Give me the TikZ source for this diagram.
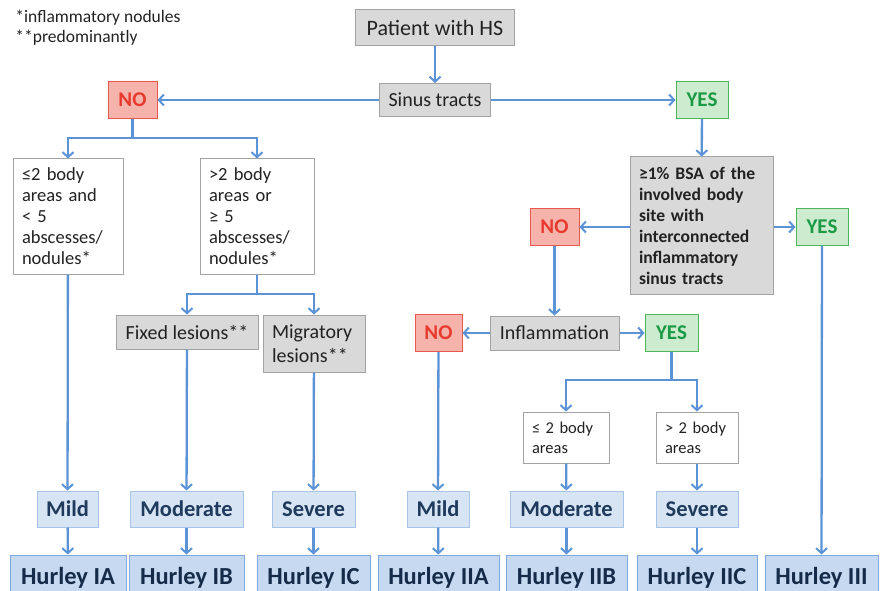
\documentclass[tikz,border=0pt]{standalone}
\usepackage{fontspec}
\setmainfont{Carlito}
\usetikzlibrary{arrows.meta}
\definecolor{greyfill}{HTML}{D9D9D9}
\definecolor{greydraw}{HTML}{A3A3A3}
\definecolor{nofill}{HTML}{F5B3AB}
\definecolor{nodraw}{HTML}{E8584E}
\definecolor{notext}{HTML}{E8392E}
\definecolor{yesfill}{HTML}{CDEBCF}
\definecolor{yesdraw}{HTML}{4DB560}
\definecolor{yestext}{HTML}{1B9A45}
\definecolor{sevfill}{HTML}{D6E4F3}
\definecolor{sevdraw}{HTML}{A8C5E6}
\definecolor{sevtext}{HTML}{1F3A5C}
\definecolor{hurfill}{HTML}{C6D9F0}
\definecolor{hurdraw}{HTML}{7EA9DC}
\definecolor{hurtext}{HTML}{152B48}
\definecolor{arrowc}{HTML}{5B93D6}
\definecolor{txt}{HTML}{222222}
\tikzset{
  base/.style={inner sep=0pt, line width=1pt, text=txt},
  greybox/.style={base, draw=greydraw, fill=greyfill},
  whitebox/.style={base, draw=greydraw, fill=white, align=left, inner xsep=9pt,
    font=\fontsize{18.5}{21}\selectfont},
  nobox/.style={base, draw=nodraw, fill=nofill, text=notext, minimum width=49, minimum height=37,
    font=\fontsize{21}{24}\selectfont\bfseries},
  yesbox/.style={base, draw=yesdraw, fill=yesfill, text=yestext, minimum width=52, minimum height=37,
    font=\fontsize{21}{24}\selectfont\bfseries},
  sevbox/.style={base, draw=sevdraw, fill=sevfill, text=sevtext, minimum height=36,
    font=\fontsize{22.5}{26}\selectfont\bfseries},
  hurbox/.style={base, draw=hurdraw, fill=hurfill, text=hurtext, minimum height=46,
    font=\fontsize{24.5}{28}\selectfont\bfseries},
  conn/.style={draw=arrowc, line width=2.3pt},
  arr/.style={conn, -{Straight Barb[length=5pt, width=11pt, line width=2pt]}},
}
\begin{document}
\begin{tikzpicture}[x=1pt, y=-1pt]
\useasboundingbox (0,0) rectangle (881,591);
\clip (0,0) rectangle (881,591);
% legend
\node[base, anchor=north west, align=left, font=\fontsize{17.5}{20}\selectfont] (legend) at (15,10)
  {*inflammatory nodules\\**predominantly};
% top
\node[greybox, minimum width=159, minimum height=36, font=\fontsize{22}{26}\selectfont] (patient) at (435,28) {Patient with HS};
\node[greybox, minimum width=111, minimum height=33, font=\fontsize{20}{24}\selectfont] (sinus) at (435,100) {Sinus tracts};
\node[nobox] (no1) at (132.5,100) {NO};
\node[yesbox] (yes1) at (702,100) {YES};
% left branch
\node[whitebox, text width=92, minimum height=115] (b1) at (68,216.5)
  {≤2 body\\areas and\\< 5\\abscesses/\\nodules*};
\node[whitebox, text width=96, minimum height=115] (b2) at (257,216.5)
  {>2 body\\areas or\\≥ 5\\abscesses/\\nodules*};
\node[greybox, minimum width=142, minimum height=34, font=\fontsize{20}{24}\selectfont] (fixed) at (187,332) {Fixed lesions**};
\node[greybox, minimum width=102, minimum height=57, align=left, inner xsep=9pt, text width=84,
  font=\fontsize{20}{24}\selectfont] (migr) at (314,343.5) {Migratory\\lesions**};
% right branch
\node[greybox, text width=125, inner xsep=9pt, minimum height=137, align=left,
  font=\fontsize{17.6}{21}\selectfont\bfseries] (bsa) at (701.5,225.5)
  {≥1\% BSA of the\\involved body\\site with\\interconnected\\inflammatory\\sinus tracts};
\node[nobox] (no2) at (554.5,227) {NO};
\node[yesbox] (yes2) at (822,227) {YES};
\node[greybox, minimum width=129, minimum height=34, font=\fontsize{20}{24}\selectfont] (inflam) at (554.5,333) {Inflammation};
\node[nobox, minimum width=47] (no3) at (438.5,333) {NO};
\node[yesbox, minimum width=53] (yes3) at (671.5,333) {YES};
\node[whitebox, text width=68, minimum height=51, font=\fontsize{16.5}{20}\selectfont] (le2) at (566,437.5)
  {≤ 2 body\\areas};
\node[whitebox, text width=64, minimum height=51, font=\fontsize{16.5}{20}\selectfont] (gt2) at (697,437.5)
  {> 2 body\\areas};
% severity row
\node[sevbox, minimum width=61] (mild1) at (67.5,509) {Mild};
\node[sevbox, minimum width=113] (mod1) at (186.5,509) {Moderate};
\node[sevbox, minimum width=83] (sev1) at (313.5,509) {Severe};
\node[sevbox, minimum width=62] (mild2) at (438,509) {Mild};
\node[sevbox, minimum width=113] (mod2) at (566.5,509) {Moderate};
\node[sevbox, minimum width=82] (sev2) at (697,509) {Severe};
% Hurley row
\node[hurbox, minimum width=116] (h1a) at (68,578) {Hurley IA};
\node[hurbox, minimum width=115] (h1b) at (186.5,578) {Hurley IB};
\node[hurbox, minimum width=113] (h1c) at (313.5,578) {Hurley IC};
\node[hurbox, minimum width=121] (h2a) at (438.5,578) {Hurley IIA};
\node[hurbox, minimum width=121] (h2b) at (566.5,578) {Hurley IIB};
\node[hurbox, minimum width=120] (h2c) at (697,578) {Hurley IIC};
\node[hurbox, minimum width=113] (h3) at (821.5,578) {Hurley III};
% junctions
\coordinate (j1) at (132.5,138);
\coordinate (j2) at (257,294);
\coordinate (j3) at (671.5,380);
% connectors
\draw[arr] (patient) -- (sinus);
\draw[arr] (sinus) -- (no1);
\draw[arr] (sinus) -- (yes1);
\draw[conn] (no1) -- (j1);
\draw[arr] (j1) -| (b1);
\draw[arr] (j1) -| (b2);
\draw[arr] (b1) -- (mild1);
\draw[conn] (b2) -- (j2);
\draw[arr] (j2) -| (fixed);
\draw[arr] (j2) -| (migr);
\draw[arr] (fixed) -- (mod1);
\draw[arr] (migr) -- (sev1);
\draw[arr] (mild1) -- (h1a);
\draw[arr] (mod1) -- (h1b);
\draw[arr] (sev1) -- (h1c);
\draw[arr] (yes1) -- (bsa);
\draw[arr] (bsa.west |- no2) -- (no2);
\draw[arr] (bsa.east |- yes2) -- (yes2);
\draw[arr] (no2) -- (inflam);
\draw[arr] (inflam) -- (no3);
\draw[arr] (inflam) -- (yes3);
\draw[arr] (no3) -- (mild2);
\draw[conn] (yes3) -- (j3);
\draw[arr] (j3) -| (le2);
\draw[arr] (j3) -| (gt2);
\draw[arr] (le2) -- (mod2);
\draw[arr] (gt2) -- (sev2);
\draw[arr] (mild2) -- (h2a);
\draw[arr] (mod2) -- (h2b);
\draw[arr] (sev2) -- (h2c);
\draw[arr] (yes2) -- (h3);
\end{tikzpicture}
\end{document}
